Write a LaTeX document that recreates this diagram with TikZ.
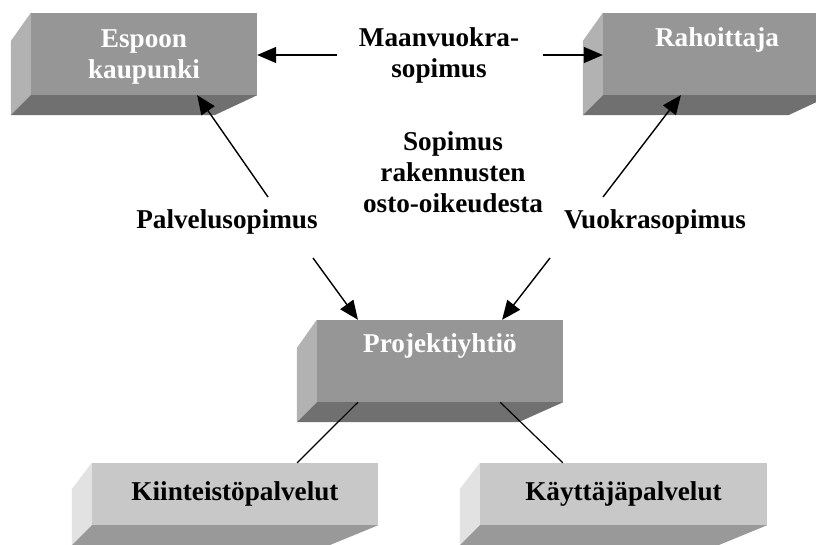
\documentclass[tikz,border=0pt]{standalone}
\usepackage{fontspec}
\setmainfont{Liberation Serif}
\usetikzlibrary{calc,positioning,arrows.meta}
\definecolor{topfront}{RGB}{150,150,150}
\definecolor{topside}{RGB}{178,178,178}
\definecolor{topbottom}{RGB}{112,112,112}
\definecolor{lowfront}{RGB}{200,200,200}
\definecolor{lowside}{RGB}{226,226,226}
\definecolor{lowbottom}{RGB}{153,153,153}
% left and bottom faces of a box, drawn towards a point below left of it
\newcommand{\boxsides}[3]{%
  \coordinate (#1-vp) at ([shift={(-200pt,-200pt)}]#1.south west);
  \fill[#2] (#1.north west) -- ($(#1.north west)!0.1!(#1-vp)$) -- ($(#1.south west)!0.1!(#1-vp)$) -- (#1.south west) -- cycle;
  \fill[#3] (#1.south west) -- ($(#1.south west)!0.1!(#1-vp)$) -- ($(#1.south east)!0.1!(#1-vp)$) -- (#1.south east) -- cycle;
}
\tikzset{
  bigtext/.style={font=\bfseries\fontsize{27.2}{31}\selectfont, align=center, inner sep=0pt},
  topbox/.style={fill=topfront, inner sep=0pt, minimum height=82pt},
  lowbox/.style={fill=lowfront, bigtext, minimum height=62pt},
  arr/.style={-{Triangle[length=19pt,width=16pt]}, line width=1.4pt},
  link/.style={line width=1.2pt}
}

\begin{document}
\begin{tikzpicture}[x=1pt, y=-1pt]
  \clip (0,0) rectangle (816,545);

  % boxes
  \node[topbox, minimum width=226pt] (espoo) at (144,54) {};
  \node[topbox, minimum width=228pt] (rahoit) at (717,54) {};
  \node[topbox, minimum width=246pt] (projekti) at (440,361) {};
  \node[lowbox, minimum width=286pt] (kiint) at (235,494) {Kiinteistöpalvelut};
  \node[lowbox, minimum width=287pt] (kaytt) at (623.5,494) {Käyttäjäpalvelut};
  \boxsides{espoo}{topside}{topbottom}
  \boxsides{rahoit}{topside}{topbottom}
  \boxsides{projekti}{topside}{topbottom}
  \boxsides{kiint}{lowside}{lowbottom}
  \boxsides{kaytt}{lowside}{lowbottom}

  \node[bigtext, text=white, below=17pt of espoo.north] (espootxt) {Espoon\\kaupunki};
  \node[bigtext, text=white, below=15pt of rahoit.north] (rahoittxt) {Rahoittaja};
  \node[bigtext, text=white, below=14pt of projekti.north] (projektitxt) {Projektiyhtiö};

  % contract labels
  \node[bigtext] (maan) at (439,55) {Maanvuokra-\\sopimus};
  \node[bigtext] (osto) at (453,172) {Sopimus\\rakennusten\\osto-oikeudesta};
  \node[bigtext] (palvelu) at (227,222) {Palvelusopimus};
  \node[bigtext] (vuokra) at (655,222) {Vuokrasopimus};

  \coordinate (maanL) at ([xshift=-22pt]maan.west);
  \coordinate (maanR) at ([xshift=24pt]maan.east);
  \coordinate (palveluUp) at (268,197);
  \coordinate (vuokraUp) at (603,197);
  \coordinate (palveluDown) at (313,258);
  \coordinate (vuokraDown) at (550,258);

  % connectors
  \draw[arr] (maanL) -- (maanL -| espoo.east);
  \draw[arr] (maanR) -- (maanR -| rahoit.west);
  \draw[arr] (palveluUp) -- ($(espoo.south west)!0.735!(espoo.south east)$);
  \draw[arr] (vuokraUp) -- ($(rahoit.south west)!0.342!(rahoit.south east)$);
  \draw[arr] (palveluDown) -- ($(projekti.north west)!0.167!(projekti.north east)$);
  \draw[arr] (vuokraDown) -- ($(projekti.north west)!0.752!(projekti.north east)$);
  \draw[link] ($(projekti.south west)!0.167!(projekti.south east)$) -- ($(kiint.north west)!0.717!(kiint.north east)$);
  \draw[link] ($(projekti.south west)!0.744!(projekti.south east)$) -- ($(kaytt.north west)!0.289!(kaytt.north east)$);
\end{tikzpicture}
\end{document}
